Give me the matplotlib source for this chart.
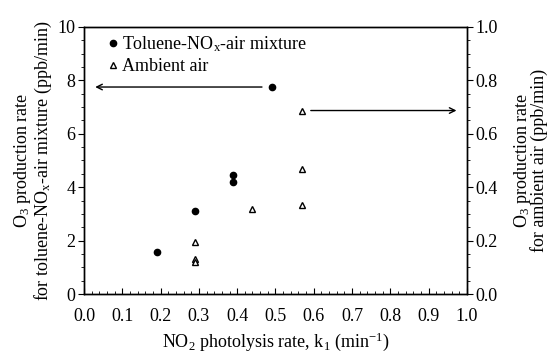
import matplotlib
matplotlib.use("Agg")
import matplotlib.pyplot as plt
from matplotlib.ticker import MultipleLocator

plt.rcParams['font.family'] = ['Liberation Serif', 'DejaVu Serif']
plt.rcParams['mathtext.fontset'] = 'custom'
plt.rcParams['mathtext.rm'] = 'Liberation Serif'
plt.rcParams['mathtext.it'] = 'Liberation Serif:italic'
plt.rcParams['mathtext.default'] = 'rm'

# Toluene-NOx-air mixture (left axis, ppb/min)
tol_k1 = [0.19, 0.29, 0.39, 0.39, 0.49]
tol_rate = [1.57, 3.12, 4.46, 4.21, 7.75]
# Ambient air (right axis, ppb/min)
amb_k1 = [0.29, 0.29, 0.29, 0.44, 0.57, 0.57, 0.57]
amb_rate = [0.196, 0.13, 0.12, 0.32, 0.685, 0.469, 0.333]

fig = plt.figure(figsize=(5.47, 3.59), dpi=100)
ax = fig.add_axes([0.1536, 0.181, 0.700, 0.744])
ax2 = ax.twinx()

ax.plot(tol_k1, tol_rate, 'o', color='black', markersize=4.5, linestyle='none',
        label='Toluene-NO$_x$-air mixture')
ax2.plot(amb_k1, amb_rate, '^', markerfacecolor='white', markeredgecolor='black',
         markeredgewidth=1.0, markersize=4.5, linestyle='none')
# proxy for legend
ax.plot([], [], '^', markerfacecolor='white', markeredgecolor='black',
        markeredgewidth=1.0, markersize=4.5, linestyle='none', label='Ambient air')

ax.set_xlim(0, 1.0)
ax.set_ylim(0, 10)
ax2.set_ylim(0, 1.0)

ax.xaxis.set_major_locator(MultipleLocator(0.1))
ax.xaxis.set_minor_locator(MultipleLocator(0.02))
ax.yaxis.set_major_locator(MultipleLocator(2))
ax.yaxis.set_minor_locator(MultipleLocator(0.5))
ax2.yaxis.set_major_locator(MultipleLocator(0.2))
ax2.yaxis.set_minor_locator(MultipleLocator(0.05))

ax.xaxis.set_major_formatter(plt.FuncFormatter(lambda v, p: f"{v:.1f}"))
ax.yaxis.set_major_formatter(plt.FuncFormatter(lambda v, p: f"{v:.0f}"))
ax2.yaxis.set_major_formatter(plt.FuncFormatter(lambda v, p: f"{v:.1f}"))

fs = 13
ax.tick_params(axis='x', which='major', direction='in', length=4, labelsize=fs, top=False, pad=10)
ax.tick_params(axis='x', which='minor', direction='in', length=2, top=False)
ax.tick_params(axis='y', which='major', direction='out', length=4, labelsize=fs, pad=2)
ax.tick_params(axis='y', which='minor', direction='out', length=2)
ax2.tick_params(axis='y', which='major', direction='out', length=4, labelsize=fs, pad=2)
ax2.tick_params(axis='y', which='minor', direction='out', length=2)

ax.set_xlabel('NO$_2$ photolysis rate, k$_1$ (min$^{-1}$)', fontsize=fs, labelpad=4)
ax.set_ylabel('O$_3$ production rate\nfor toluene-NO$_x$-air mixture (ppb/min)',
              fontsize=fs, linespacing=0.95, labelpad=3)
ax2.set_ylabel('O$_3$ production rate\nfor ambient air (ppb/min)', fontsize=fs,
               rotation=90, labelpad=10, linespacing=0.85)

ax.annotate('', xy=(0.022, 7.75), xytext=(0.472, 7.75),
            arrowprops=dict(arrowstyle='->', color='black', lw=1.0))
ax2.annotate('', xy=(0.98, 0.687), xytext=(0.585, 0.687),
             arrowprops=dict(arrowstyle='->', color='black', lw=1.0))

leg = ax.legend(loc='upper left', bbox_to_anchor=(0.032, 1.0), frameon=False,
                fontsize=fs, handletextpad=0.0, handlelength=1.0,
                borderaxespad=0.0, labelspacing=0.25)

for a in (ax, ax2):
    for s in a.spines.values():
        s.set_linewidth(1.0)

fig.savefig('out.png', dpi=100)
